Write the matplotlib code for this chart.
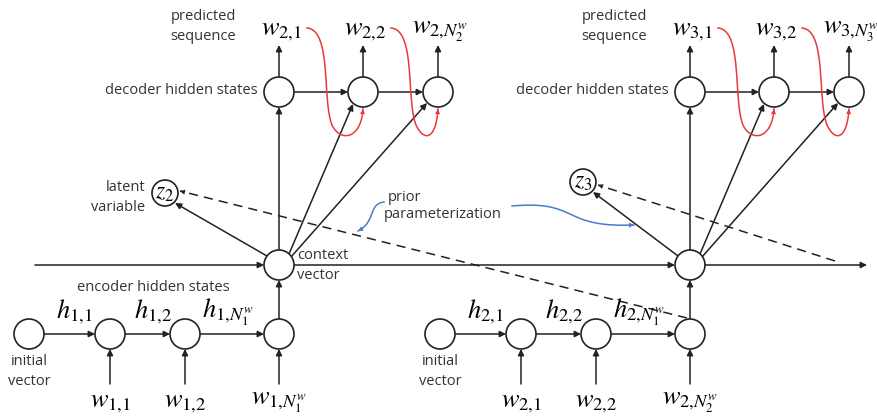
import numpy as np
import matplotlib
matplotlib.use("Agg")
import matplotlib.pyplot as plt
from matplotlib.patches import Circle, FancyArrowPatch

plt.rcParams['font.family'] = ['Open Sans', 'DejaVu Sans']
plt.rcParams['mathtext.fontset'] = 'stix'

# ----------------
#  LABELS
# ----------------
dec_words = [[r'$w_{2{,}1}$', r'$w_{2{,}2}$', r'$w_{2{,}N_2^w}$'],
             [r'$w_{3{,}1}$', r'$w_{3{,}2}$', r'$w_{3{,}N_3^w}$']]
enc_words = [[r'$w_{1{,}1}$', r'$w_{1{,}2}$', r'$w_{1{,}N_1^w}$'],
             [r'$w_{2{,}1}$', r'$w_{2{,}2}$', r'$w_{2{,}N_2^w}$']]
enc_hidden = [[r'$h_{1{,}1}$', r'$h_{1{,}2}$', r'$h_{1{,}N_1^w}$'],
              [r'$h_{2{,}1}$', r'$h_{2{,}2}$', r'$h_{2{,}N_1^w}$']]
latent = [r'$z_2$', r'$z_3$']

# layout (pixels, y down)
ctx_x = [279, 690]
z_pos = [(165, 193), (583, 182)]
enc_dx = [-250, -169, -94, 0]
dec_dx = [0, 84, 159]
h_dx = [5, 5, -4]
Y_DEC, Y_CTX, Y_ENC = 92, 265, 334
R = 15
K = '#222222'
RED = '#e8393a'
BLUE = '#4a7cc9'
MATH = 19
TXT = 10.5

fig = plt.figure(figsize=(8.78, 4.19), dpi=100)
ax = fig.add_axes([0, 0, 1, 1])
ax.set_xlim(0, 878)
ax.set_ylim(419, 0)
ax.axis('off')


def node(x, y, r=R):
    ax.add_patch(Circle((x, y), r, fc='white', ec=K, lw=1.2, zorder=3))


def arrow(p, q, color=K, ms=9, lw=1.1):
    ax.add_patch(FancyArrowPatch(p, q, arrowstyle='-|>', mutation_scale=ms,
                                 color=color, lw=lw, shrinkA=0, shrinkB=0, zorder=2))


def head(p, q, color=K, ms=9):
    # arrow head only, pointing from p to q
    ax.add_patch(FancyArrowPatch(p, q, arrowstyle='-|>', mutation_scale=ms,
                                 color=color, lw=0.01, shrinkA=0, shrinkB=0, zorder=2))


def bezier(pts, n=60):
    pts = np.array(pts, float)
    t = np.linspace(0, 1, n)[:, None]
    return ((1 - t) ** 3 * pts[0] + 3 * (1 - t) ** 2 * t * pts[1]
            + 3 * (1 - t) * t ** 2 * pts[2] + t ** 3 * pts[3])


def curve(segs, color, lw=1.1):
    xy = np.vstack([bezier(s) for s in segs])
    ax.plot(xy[:, 0], xy[:, 1], color=color, lw=lw, zorder=2)
    head(xy[-4], xy[-1], color=color, ms=9)


def txt(x, y, s, ha='center', size=TXT):
    ax.text(x, y, s, ha=ha, va='center', fontsize=size, color='#333333')


# horizontal backbone
arrow((35, Y_CTX), (ctx_x[0] - R, Y_CTX))
arrow((ctx_x[0] + R, Y_CTX), (ctx_x[1] - R, Y_CTX))
arrow((ctx_x[1] + R, Y_CTX), (867, Y_CTX))

for b in range(2):
    cx = ctx_x[b]
    # encoder
    ex = [cx + d for d in enc_dx]
    for i, x in enumerate(ex):
        node(x, Y_ENC)
    for i in range(3):
        arrow((ex[i] + R, Y_ENC), (ex[i + 1] - R, Y_ENC))
        ax.text((ex[i] + ex[i + 1]) / 2 + h_dx[i], Y_ENC - 22, enc_hidden[b][i],
                ha='center', va='center', fontsize=MATH)
    for i in range(1, 4):
        arrow((ex[i], 384), (ex[i], Y_ENC + R))
        ax.text(ex[i], 402, enc_words[b][i - 1], ha='center', va='center', fontsize=MATH)
    txt(ex[0], 361, 'initial')
    txt(ex[0], 381, 'vector')
    arrow((cx, Y_ENC - R), (cx, Y_CTX + R))

    # context + decoder
    node(cx, Y_CTX)
    dx = [cx + d for d in dec_dx]
    for i, x in enumerate(dx):
        node(x, Y_DEC)
        arrow((x, Y_DEC - R), (x, 45))
        ax.text(x + 2, 31, dec_words[b][i], ha='center', va='center', fontsize=MATH)
    for i in range(2):
        arrow((dx[i] + R, Y_DEC), (dx[i + 1] - R, Y_DEC))
    arrow((cx, Y_CTX - R), (cx, Y_DEC + R))
    arrow((cx + 10, Y_CTX - 11), (dx[1] - 10, Y_DEC + 12))
    arrow((cx + 12, Y_CTX - 8), (dx[2] - 11, Y_DEC + 11))

    # red feedback curves
    for i in range(2):
        x0 = dx[i] + 28
        xt = dx[i + 1]
        curve([[(x0, 28), (x0 + 25, 30), (x0 + 15, 100), (x0 + 25, 125)],
               [(x0 + 25, 125), (x0 + 33, 142), (xt - 2, 140), (xt, Y_DEC + R + 2)]],
              RED)

    txt(dx[0] - 76, 17, 'predicted')
    txt(dx[0] - 76, 37, 'sequence')
    txt(dx[0] - 21, Y_DEC - 2, 'decoder hidden states', ha='right')

    # latent variable
    zx, zy = z_pos[b]
    node(zx, zy, 13)
    ax.text(zx, zy, latent[b], ha='center', va='center', fontsize=17, zorder=4)
    arrow((cx - 12, Y_CTX - 9), (zx + 10, zy + 10))

txt(ctx_x[0] + 18, 255, 'context', ha='left')
txt(ctx_x[0] + 18, 275, 'vector', ha='left')
txt(153, 287, 'encoder hidden states')
txt(145, 187, 'latent', ha='right')
txt(145, 207, 'variable', ha='right')

# dashed prior links
for p, q in [((687, 318), (180, 191)), ((835, 261), (598, 185))]:
    ax.plot([p[0], q[0]], [p[1], q[1]], color=K, lw=1.1, ls=(0, (6, 4)), zorder=1)
    v = np.subtract(q, p) / np.hypot(*np.subtract(q, p))
    head(np.array(q) - 8 * v, q)

# prior parameterization annotation
txt(388, 197, 'prior', ha='left')
txt(384, 214, 'parameterization', ha='left')
curve([[(384, 202), (368, 204), (376, 222), (358, 231)]], BLUE)
curve([[(512, 206), (580, 200), (560, 228), (634, 225)]], BLUE)

fig.savefig('out.png', dpi=100)
